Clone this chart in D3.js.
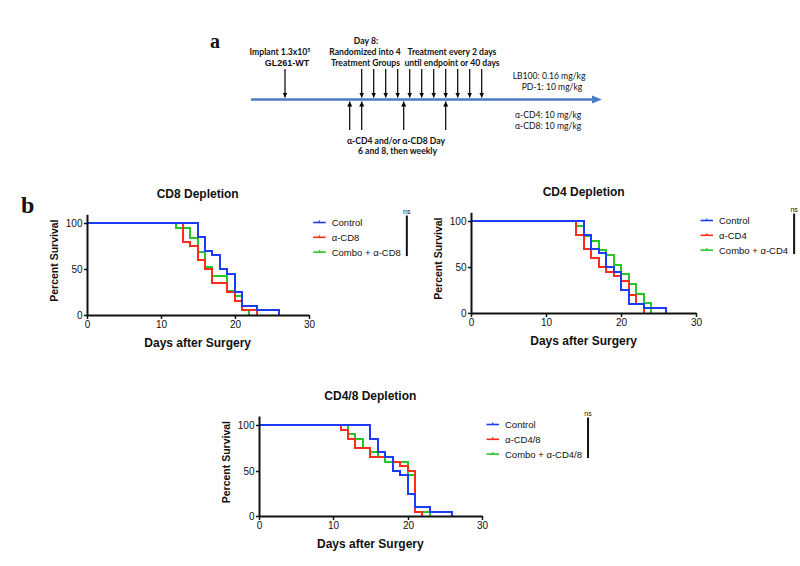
<!DOCTYPE html>
<html>
<head>
<meta charset="utf-8">
<script src="https://cdn.jsdelivr.net/npm/d3@7"></script>
<style>
body { margin: 0; background: #fff; }
svg { display: block; }
text { font-family: "Liberation Sans", Arial, sans-serif; fill: #111; }
.sch { font-family: Lato, "Open Sans", sans-serif; }
</style>
</head>
<body>
<svg id="chart" width="800" height="566"></svg>
<script>
// ---- timeline (panel a) ----
var implantDay = 0;
var treatmentDays = [8, 10, 12, 14, 16, 18, 20, 22, 24, 26, 28];
var depletionDays = [6, 8, 15, 22];

// ---- survival curves (panel b), day / percent survival ----
var controlTimes = [0, 15, 16, 17, 18, 19, 20, 21, 23, 26];
var controlSurv  = [100, 85, 70, 65, 50, 45, 25, 10, 5, 0];

var cd8Times = [0, 13, 14, 15, 16, 17, 19, 20, 21, 23];
var cd8Surv  = [100, 80, 75, 60, 50, 35, 25, 15, 5, 0];
var comboCd8Times = [0, 12, 14, 15, 16, 17, 19, 20, 21, 22];
var comboCd8Surv  = [100, 94.7, 84.2, 68.4, 52.6, 42.1, 26.3, 21.1, 5.3, 0];

var cd4Times = [0, 14, 15, 16, 17, 18, 19, 20, 21, 22, 23];
var cd4Surv  = [100, 85, 70, 60, 50, 45, 40, 35, 20, 10, 0];
var comboCd4Times = [0, 14, 15, 16, 17, 18, 19, 20, 21, 22, 23, 24];
var comboCd4Surv  = [100, 94.7, 84.2, 78.9, 68.4, 63.2, 52.6, 42.1, 31.6, 21.1, 10.5, 0];

var cd48Times = [0, 11, 12, 13, 15, 18, 19, 20, 21, 22];
var cd48Surv  = [100, 95, 85, 75, 65, 60, 55, 50, 5, 0];
var comboCd48Times = [0, 12, 13, 14, 15, 16, 17, 20, 21, 23];
var comboCd48Surv  = [100, 90, 85, 75, 70, 65, 60, 45, 5, 0];

var xTicks = [0, 10, 20, 30];
var yTicks = [0, 50, 100];

var BLUE = '#1d3cf5', RED = '#fb2d1c', GREEN = '#27c527';

var svg = d3.select('#chart');
svg.append('rect').attr('width', 800).attr('height', 566).attr('fill', '#fff');

var defs = svg.append('defs');
defs.append('marker')
    .attr('id', 'head')
    .attr('viewBox', '0 0 10 10')
    .attr('refX', 10).attr('refY', 5)
    .attr('markerWidth', 5).attr('markerHeight', 5)
    .attr('markerUnits', 'userSpaceOnUse')
    .attr('orient', 'auto')
    .append('path').attr('d', 'M0,0L10,5L0,10z').attr('fill', '#000');

// ================= panel a =================
function drawTimeline () {
    var lineY = 99.5;
    var tx = d3.scaleLinear().domain([0, 6, 28]).range([285, 349.7, 481.7]);

    svg.append('text').text('a')
        .attr('x', 210).attr('y', 48)
        .style('font-family', '"Liberation Serif", "Times New Roman", serif')
        .style('font-weight', 'bold').style('font-size', '20px');

    svg.append('line')
        .attr('x1', 251).attr('x2', 594)
        .attr('y1', lineY).attr('y2', lineY)
        .attr('stroke', '#4a7cc6').attr('stroke-width', 2.5);
    svg.append('path')
        .attr('d', 'M592,95.5L602,' + lineY + 'L592,103.5z')
        .attr('fill', '#4a7cc6');

    var downDays = [implantDay].concat(treatmentDays);
    svg.selectAll('line.down').data(downDays).enter().append('line')
        .attr('class', 'down')
        .attr('x1', function (d) { return tx(d); })
        .attr('x2', function (d) { return tx(d); })
        .attr('y1', 69).attr('y2', 97.5)
        .attr('stroke', '#000').attr('stroke-width', 1.2)
        .attr('marker-end', 'url(#head)');

    svg.selectAll('line.up').data(depletionDays).enter().append('line')
        .attr('class', 'up')
        .attr('x1', function (d) { return tx(d); })
        .attr('x2', function (d) { return tx(d); })
        .attr('y1', 130).attr('y2', 101.5)
        .attr('stroke', '#000').attr('stroke-width', 1.2)
        .attr('marker-end', 'url(#head)');

    function label (str, x, y, bold, anchor, size, cls) {
        var t = svg.append('text')
            .attr('x', x).attr('y', y)
            .attr('text-anchor', anchor || 'middle')
            .style('font-size', (size || 8.6) + 'px')
            .style('font-weight', bold ? 'bold' : 'normal');
        if (cls !== false) t.attr('class', 'sch');
        t.text(str);
        return t;
    }

    var imp = label('Implant 1.3x10', 280, 55, true);
    imp.append('tspan').text('5').attr('dy', -3.5).style('font-size', '5.5px');
    label('GL261-WT', 287, 66, true, 'middle', 9, false);

    label('Day 8:', 366, 43.5, true);
    label('Randomized into 4', 365, 55, true);
    label('Treatment Groups', 365.5, 65.5, true);
    label('Treatment every 2 days', 452, 55, true);
    label('until endpoint or 40 days', 452, 65.5, true);

    label('LB100: 0.16 mg/kg', 549, 79, false);
    label('PD-1: 10 mg/kg', 552, 89.5, false);
    label('\u03b1-CD4: 10 mg/kg', 515, 117.5, false, 'start');
    label('\u03b1-CD8: 10 mg/kg', 515, 128.5, false, 'start');

    label('\u03b1-CD4 and/or \u03b1-CD8 Day', 396, 143.5, true);
    label('6 and 8, then weekly', 397.5, 154, true);
}

// ================= panel b =================
function drawPanel (cfg) {
    var g = svg.append('g');
    var x = d3.scaleLinear().domain([0, 30]).rangeRound([cfg.left, cfg.right]);
    var y = d3.scaleLinear().domain([0, 110]).rangeRound([cfg.bottom, cfg.top]);

    // step curves
    var line = d3.line()
        .x(function (d) { return x(d[0]); })
        .y(function (d) { return y(d[1]); })
        .curve(d3.curveStepAfter);

    var drawOrder = cfg.series.slice().reverse();
    g.selectAll('path.km').data(drawOrder).enter().append('path')
        .attr('class', 'km')
        .attr('d', function (s) { return line(d3.zip(s.times, s.surv)); })
        .attr('fill', 'none')
        .attr('stroke', function (s) { return s.color; })
        .attr('stroke-width', 2);

    // axes
    var xAxis = g.append('g')
        .attr('transform', 'translate(0,' + y(0) + ')')
        .call(d3.axisBottom(x).tickValues(xTicks).tickSize(4).tickSizeOuter(0).tickPadding(2));
    var yAxis = g.append('g')
        .attr('transform', 'translate(' + x(0) + ',0)')
        .call(d3.axisLeft(y).tickValues(yTicks).tickSize(3).tickSizeOuter(0).tickPadding(1.5));
    [xAxis, yAxis].forEach(function (a) {
        a.select('.domain').attr('stroke', '#111').attr('stroke-width', 2);
        a.selectAll('.tick line').attr('stroke', '#111').attr('stroke-width', 1.5);
        a.selectAll('.tick text').style('font-size', '10px').attr('fill', '#222')
            .style('font-family', '"Liberation Sans", Arial, sans-serif');
    });

    // titles
    g.append('text').text(cfg.title)
        .attr('x', (cfg.left + cfg.right) / 2).attr('y', cfg.top - 16)
        .attr('text-anchor', 'middle')
        .style('font-size', '12px').style('font-weight', 'bold');
    g.append('text').text('Days after Surgery')
        .attr('x', (cfg.left + cfg.right) / 2).attr('y', cfg.bottom + 31.5)
        .attr('text-anchor', 'middle')
        .style('font-size', '12px').style('font-weight', 'bold');
    g.append('text').text('Percent Survival')
        .attr('transform', 'translate(' + (cfg.left - 29) + ',' + ((cfg.top + cfg.bottom) / 2 - 4) + ') rotate(-90)')
        .attr('text-anchor', 'middle')
        .style('font-size', '10.5px').style('font-weight', 'bold');

    // legend
    var lx = cfg.right + 4.5;
    var ly = y(100) - 0.5;
    var leg = g.selectAll('g.leg').data(cfg.series).enter().append('g')
        .attr('class', 'leg')
        .attr('transform', function (d, i) { return 'translate(' + lx + ',' + (ly + i * 14.8) + ')'; });
    leg.append('line')
        .attr('x1', 0).attr('x2', 12.5).attr('y1', 0).attr('y2', 0)
        .attr('stroke', function (d) { return d.color; }).attr('stroke-width', 1.6);
    leg.append('line')
        .attr('x1', 6.25).attr('x2', 6.25).attr('y1', -2).attr('y2', 0)
        .attr('stroke', function (d) { return d.color; }).attr('stroke-width', 1.2);
    var maxW = 0;
    leg.append('text')
        .attr('x', 18.5).attr('y', 3.4)
        .style('font-size', '9.5px')
        .text(function (d) { return d.label; })
        .each(function () { maxW = Math.max(maxW, this.getComputedTextLength()); });

    var bx = lx + 18.5 + maxW + 6;
    var lastRow = ly + (cfg.series.length - 1) * 14.8;
    g.append('line')
        .attr('x1', bx).attr('x2', bx)
        .attr('y1', ly - 7).attr('y2', lastRow + 4)
        .attr('stroke', '#111').attr('stroke-width', 2);
    g.append('text').text('ns')
        .attr('x', bx).attr('y', ly - 9)
        .attr('text-anchor', 'middle')
        .style('font-size', '7px');
}

drawTimeline();

svg.append('text').text('b')
    .attr('x', 21).attr('y', 213)
    .style('font-family', '"Liberation Serif", "Times New Roman", serif')
    .style('font-weight', 'bold').style('font-size', '24px');

drawPanel({
    title: 'CD8 Depletion',
    left: 86.7, right: 308.7, top: 214.3, bottom: 315,
    series: [
        { label: 'Control', color: BLUE, times: controlTimes, surv: controlSurv },
        { label: '\u03b1-CD8', color: RED, times: cd8Times, surv: cd8Surv },
        { label: 'Combo + \u03b1-CD8', color: GREEN, times: comboCd8Times, surv: comboCd8Surv }
    ]
});

drawPanel({
    title: 'CD4 Depletion',
    left: 471.3, right: 696, top: 212.3, bottom: 313,
    series: [
        { label: 'Control', color: BLUE, times: controlTimes, surv: controlSurv },
        { label: '\u03b1-CD4', color: RED, times: cd4Times, surv: cd4Surv },
        { label: 'Combo + \u03b1-CD4', color: GREEN, times: comboCd4Times, surv: comboCd4Surv }
    ]
});

drawPanel({
    title: 'CD4/8 Depletion',
    left: 258.7, right: 482, top: 416, bottom: 516.3,
    series: [
        { label: 'Control', color: BLUE, times: controlTimes, surv: controlSurv },
        { label: '\u03b1-CD4/8', color: RED, times: cd48Times, surv: cd48Surv },
        { label: 'Combo + \u03b1-CD4/8', color: GREEN, times: comboCd48Times, surv: comboCd48Surv }
    ]
});
</script>
</body>
</html>
